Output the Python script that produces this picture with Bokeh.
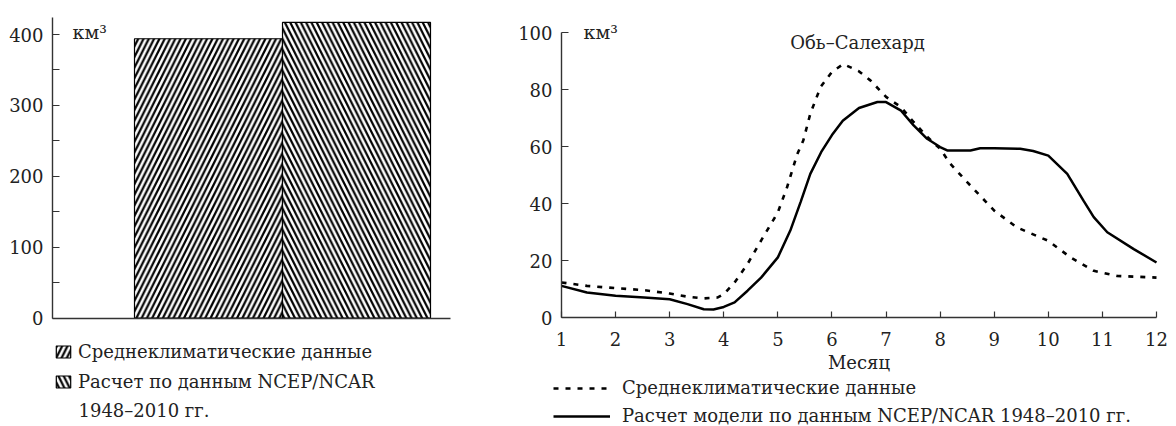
from bokeh.plotting import figure
from bokeh.models import (FixedTicker, Label, Legend, LegendItem, Range1d, LinearAxis)
from bokeh.embed import file_html
from bokeh.resources import INLINE

# ---------------- data ----------------
bar_categories = ["Среднеклиматические данные", "Расчет по данным NCEP/NCAR"]
bar_note = "1948–2010 гг."
bar_values = [394, 417]
bar_positions = [1, 2]

left_y_ticks = [0, 100, 200, 300, 400]
left_y_minor = [50, 150, 250, 350]

month_ticks = [1, 2, 3, 4, 5, 6, 7, 8, 9, 10, 11, 12]
right_y_ticks = [0, 20, 40, 60, 80, 100]

series_names = ["Среднеклиматические данные",
                "Расчет модели по данным NCEP/NCAR 1948–2010 гг."]

clim_x = [1, 1.47, 2, 2.53, 3, 3.33, 3.63, 3.88, 4, 4.2, 4.44, 4.69, 5, 5.17, 5.36,
          5.47, 5.60, 5.79, 6, 6.21, 6.49, 6.71, 7, 7.27, 7.51, 7.76, 8, 8.19, 8.5,
          9, 9.42, 10, 10.41, 10.84, 11.27, 12]
clim_y = [12.3, 11.1, 10.3, 9.6, 8.4, 7.3, 6.7, 7.0, 8.2, 12.3, 18.8, 27.0, 36.9, 45.7, 57.4,
          62.1, 71.5, 80.9, 86.2, 88.9, 86.5, 83.2, 77.4, 73.9, 68.6, 63.4, 59.2, 53.9, 47.5,
          37.5, 31.6, 26.9, 21.1, 16.4, 14.6, 14.0]

model_x = [1, 1.47, 2, 2.53, 3, 3.33, 3.63, 3.81, 4, 4.2, 4.44, 4.69, 5, 5.23, 5.42, 5.6,
           5.8, 6, 6.2, 6.5, 6.84, 7, 7.27, 7.51, 7.76, 8, 8.13, 8.56, 8.74, 9, 9.48, 9.72,
           10, 10.35, 10.65, 10.84, 11.09, 11.58, 12]
model_y = [11.1, 8.8, 7.6, 7.0, 6.4, 4.7, 2.9, 2.8, 3.7, 5.3, 9.4, 14.0, 21.1, 30.5, 40.5, 50.4,
           58.0, 64.0, 69.0, 73.5, 75.6, 75.6, 72.7, 67.4, 62.7, 59.8, 58.6, 58.6, 59.4, 59.4, 59.2, 58.4,
           56.8, 50.4, 41.0, 35.2, 29.9, 24.0, 19.3]

FONT = "DejaVu Serif"
FS = "18px"
AXC = "#333333"
TXT = "#222222"
W, H = 1176, 426


def pix_range(pa, va, pb, vb, size, vertical=False):
    """Range whose values map onto canvas pixels, given two anchor pixels."""
    k = (vb - va) / (pb - pa)
    v0 = va + (0 - pa) * k
    v1 = va + (size - pa) * k
    return Range1d(v1, v0) if vertical else Range1d(v0, v1), (lambda p: va + (p - pa) * k)


def style_axis(ax):
    ax.axis_line_color = AXC
    ax.axis_line_width = 1.4
    ax.major_tick_line_color = AXC
    ax.minor_tick_line_color = AXC
    ax.major_tick_line_width = 1.2
    ax.minor_tick_line_width = 1.2
    ax.major_label_text_font = FONT
    ax.major_label_text_font_size = FS
    ax.major_label_text_color = TXT


p = figure(width=W, height=H, output_backend="svg", toolbar_location=None,
           x_range=Range1d(0, W), y_range=Range1d(0, H),
           x_axis_location=None, y_axis_location=None,
           min_border_left=0, min_border_right=0, min_border_top=0, min_border_bottom=0)
p.outline_line_color = None
p.grid.visible = False

# ---- left panel ranges (bar chart) ----
lx_rng, lx = pix_range(134, 0.5, 430, 2.5, W)
ly_rng, ly = pix_range(317.7, 0, 34, 400, H, vertical=True)
# ---- right panel ranges (line chart) ----
rx_rng, rx = pix_range(561, 1, 1156, 12, W)
ry_rng, ry = pix_range(317, 0, 32, 100, H, vertical=True)
p.extra_x_ranges = {"lx": lx_rng, "rx": rx_rng}
p.extra_y_ranges = {"ly": ly_rng, "ry": ry_rng}

# ---------------- left: bars ----------------
r_a = p.vbar(x=[bar_positions[0]], top=[bar_values[0]], width=1, fill_color="white",
             line_color="black", line_width=1.2, hatch_pattern="/", hatch_scale=10.6,
             hatch_weight=2.2, hatch_color="black", x_range_name="lx", y_range_name="ly")
r_b = p.vbar(x=[bar_positions[1]], top=[bar_values[1]], width=1, fill_color="white",
             line_color="black", line_width=1.2, hatch_pattern="\\", hatch_scale=10.6,
             hatch_weight=2.2, hatch_color="black", x_range_name="lx", y_range_name="ly")

yl = LinearAxis(x_range_name="lx", y_range_name="ly", fixed_location=lx(52),
                bounds=(0, ly(16.7)))
yl.ticker = FixedTicker(ticks=left_y_ticks, minor_ticks=left_y_minor)
yl.major_tick_in = 7
yl.major_tick_out = 0
yl.minor_tick_in = 7
yl.minor_tick_out = 0
yl.major_label_standoff = 9
style_axis(yl)
p.add_layout(yl, "left")

xl = LinearAxis(x_range_name="lx", y_range_name="ly", fixed_location=0,
                bounds=(lx(52), lx(450)))
xl.ticker = FixedTicker(ticks=[], minor_ticks=[])
xl.major_tick_in = 0
xl.major_tick_out = 0
xl.minor_tick_in = 0
xl.minor_tick_out = 0
style_axis(xl)
p.add_layout(xl, "below")

p.add_layout(Label(x=72, y=H - 31, x_units="screen", y_units="screen", text="км³",
                   text_font=FONT, text_font_size="19px", text_baseline="middle",
                   text_align="left", text_color=TXT))

leg1 = Legend(items=[LegendItem(label=bar_categories[0], renderers=[r_a]),
                     LegendItem(label=bar_categories[1], renderers=[r_b])],
              location=(54, H - 392), orientation="vertical", padding=0, margin=0,
              spacing=9, glyph_width=18, glyph_height=15, label_height=20,
              label_standoff=6, label_text_font=FONT, label_text_font_size=FS,
              label_text_color=TXT, border_line_alpha=0, background_fill_alpha=0)
p.add_layout(leg1)
p.add_layout(Label(x=78, y=H - 410, x_units="screen", y_units="screen", text=bar_note,
                   text_font=FONT, text_font_size=FS, text_baseline="middle",
                   text_align="left", text_color=TXT))

# ---------------- right: lines ----------------
r_clim = p.line(clim_x, clim_y, line_color="black", line_width=2.6, line_dash="5 7",
                x_range_name="rx", y_range_name="ry")
r_model = p.line(model_x, model_y, line_color="black", line_width=2.5,
                 x_range_name="rx", y_range_name="ry")

xr = LinearAxis(x_range_name="rx", y_range_name="ry", fixed_location=0, bounds=(1, 12))
xr.ticker = FixedTicker(ticks=month_ticks, minor_ticks=[])
xr.major_tick_in = 6
xr.major_tick_out = 0
xr.minor_tick_in = 0
xr.minor_tick_out = 0
xr.major_label_standoff = 14
xr.axis_label = "Месяц"
xr.axis_label_text_font = FONT
xr.axis_label_text_font_size = FS
xr.axis_label_text_font_style = "normal"
xr.axis_label_text_color = TXT
xr.axis_label_standoff = 3
style_axis(xr)
p.add_layout(xr, "below")

yr = LinearAxis(x_range_name="rx", y_range_name="ry", fixed_location=1, bounds=(0, 100))
yr.ticker = FixedTicker(ticks=right_y_ticks, minor_ticks=[])
yr.major_tick_in = 7
yr.major_tick_out = 0
yr.minor_tick_in = 0
yr.minor_tick_out = 0
yr.major_label_standoff = 9
style_axis(yr)
p.add_layout(yr, "left")

p.add_layout(Label(x=583, y=H - 31, x_units="screen", y_units="screen", text="км³",
                   text_font=FONT, text_font_size="19px", text_baseline="middle",
                   text_align="left", text_color=TXT))
p.add_layout(Label(x=857, y=H - 42, x_units="screen", y_units="screen", text="Обь–Салехард",
                   text_font=FONT, text_font_size=FS, text_baseline="middle",
                   text_align="center", text_color=TXT))

leg2 = Legend(items=[LegendItem(label=series_names[0], renderers=[r_clim]),
                     LegendItem(label=series_names[1], renderers=[r_model])],
              location=(553, 0), orientation="vertical", padding=0, margin=0,
              spacing=7, glyph_width=57, glyph_height=20, label_height=20,
              label_standoff=12, label_text_font=FONT, label_text_font_size=FS,
              label_text_color=TXT, border_line_alpha=0, background_fill_alpha=0)
p.add_layout(leg2)

open("out.html", "w").write(file_html(p, INLINE))
